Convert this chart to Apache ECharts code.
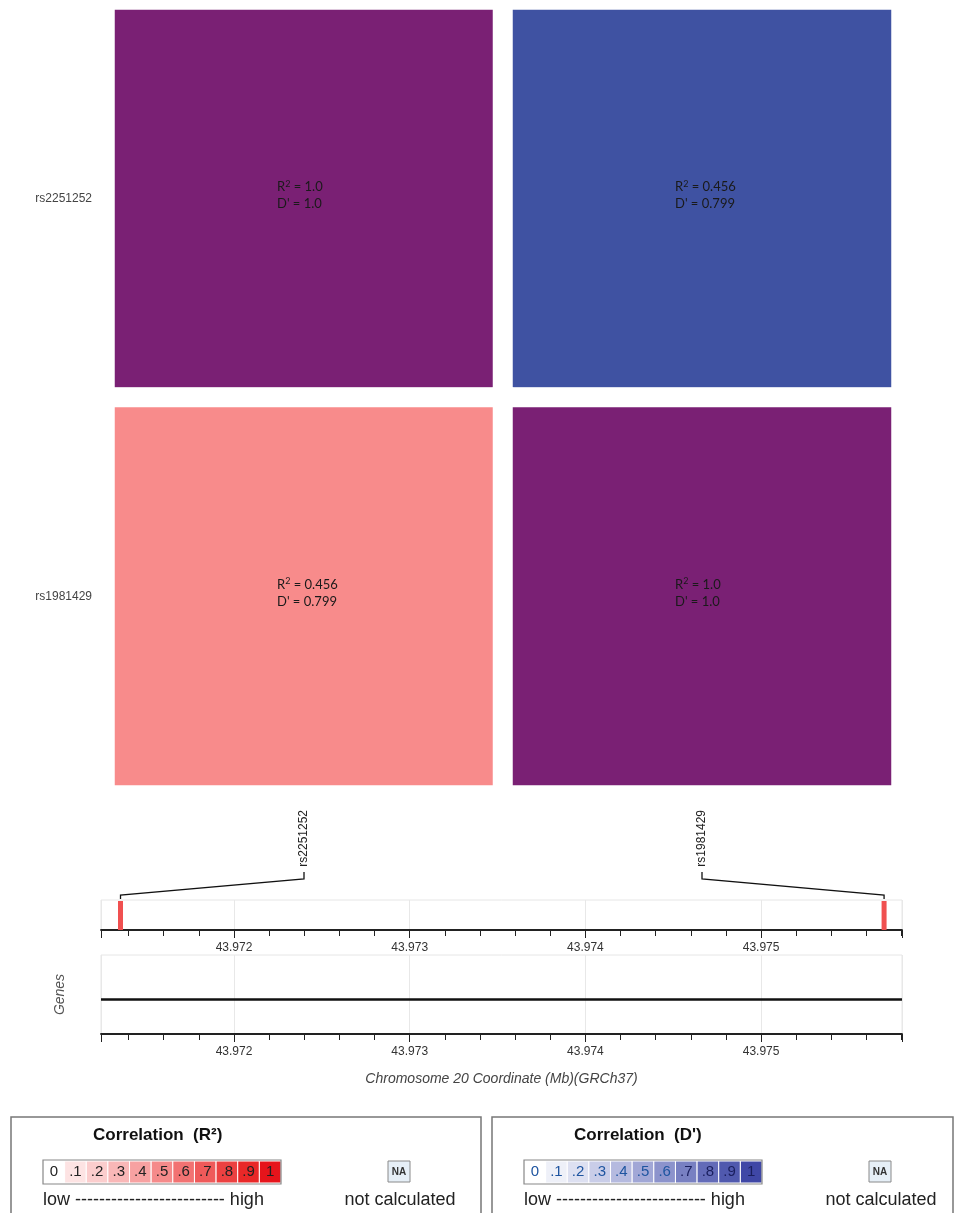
<!DOCTYPE html>
<html>
<head>
<meta charset="utf-8">
<script src="https://cdn.jsdelivr.net/npm/echarts@6/dist/echarts.min.js"></script>
<style>
html, body { margin: 0; padding: 0; background: #fff; }
#main { width: 963px; height: 1213px; }
</style>
</head>
<body>
<div id="main"></div>
<script>
// LD data for the two SNPs
const snps = ['rs2251252', 'rs1981429'];
const snpPos = [43.971354, 43.9757];   // Mb, GRCh37
const r2 = [[1.0, 0.456], [0.456, 1.0]];
const dprime = [[1.0, 0.799], [0.799, 1.0]];
const axisMin = 43.971243;
const axisMax = 43.975802;
const legendTicks = ['0', '.1', '.2', '.3', '.4', '.5', '.6', '.7', '.8', '.9', '1'];

// colours
const r2Colors = ['#FFFFFF', '#FDE3E3', '#FBCDCD', '#F9B7B7', '#F7A1A1', '#F58A8A', '#F27272', '#EF5A5A', '#EC4141', '#E92828', '#E6141B'];
const dpColors = ['#FFFFFF', '#EEF0F8', '#DDE0F1', '#C9CDE8', '#B5BADF', '#A1A7D6', '#8C93CC', '#7880C2', '#636BB8', '#5059AE', '#3F47A6'];
const purple = '#7A2074';

function mix(end, t) {
    return 'rgb(' + end.map(c => Math.round(255 - t * (255 - c))).join(',') + ')';
}
function cellColor(i, j) {
    if (i === j) return purple;
    if (i > j) return mix([240, 0, 0], r2[i][j]);
    return mix([15, 38, 139], dprime[i][j]);
}
function fmt(v) { return v === 1 ? '1.0' : String(v); }

const cells = [];
snps.forEach((a, i) => {
    snps.forEach((b, j) => {
        cells.push({ value: [j, i, r2[i][j]], itemStyle: { color: cellColor(i, j) } });
    });
});

const chart = echarts.init(document.getElementById('main'));

const posAxis = {
    type: 'value',
    min: axisMin,
    max: axisMax,
    splitNumber: 5,
    axisLine: { onZero: false, lineStyle: { color: '#222', width: 1.8 } },
    axisTick: { length: 8, lineStyle: { color: '#222' } },
    minorTick: { show: true, splitNumber: 5, length: 6, lineStyle: { color: '#222' } },
    axisLabel: { fontSize: 12, color: '#333', margin: 12, showMinLabel: false, showMaxLabel: false, fontFamily: 'Liberation Sans' },
    splitLine: { show: true, lineStyle: { color: '#e8e8e8' } }
};

function legendBox(x0, w, title, colors, digitColor) {
    const ch = [];
    ch.push({ type: 'rect', shape: { x: x0, y: 1117, width: w, height: 120 }, style: { fill: 'none', stroke: '#777', lineWidth: 1.5 } });
    ch.push({ type: 'text', x: x0 + 82, y: 1135, style: { text: title, font: 'bold 17px "Liberation Sans"', fill: '#111', verticalAlign: 'middle' } });
    const cw = 238 / 11;
    colors.forEach((c, k) => {
        ch.push({ type: 'rect', shape: { x: x0 + 32 + k * cw, y: 1161, width: cw, height: 22 }, style: { fill: c, stroke: '#fff', lineWidth: 1 } });
        ch.push({ type: 'text', x: x0 + 32 + (k + 0.5) * cw, y: 1172, style: { text: legendTicks[k], font: '15px "Liberation Sans"', fill: digitColor(k), align: 'center', verticalAlign: 'middle' } });
    });
    ch.push({ type: 'rect', shape: { x: x0 + 32, y: 1160, width: 238, height: 24 }, style: { fill: 'none', stroke: '#888', lineWidth: 1.2 } });
    ch.push({ type: 'rect', shape: { x: x0 + 377, y: 1161, width: 22, height: 21 }, style: { fill: '#E6EFF7', stroke: '#8a8a8a', lineWidth: 1 } });
    ch.push({ type: 'text', x: x0 + 388, y: 1172, style: { text: 'NA', font: 'bold 10px "Liberation Sans"', fill: '#333', align: 'center', verticalAlign: 'middle' } });
    ch.push({ type: 'text', x: x0 + 32, y: 1200, style: { text: 'low ------------------------- high', font: '18px "Liberation Sans"', fill: '#222', verticalAlign: 'middle' } });
    ch.push({ type: 'text', x: x0 + 389, y: 1200, style: { text: 'not calculated', font: '18px "Liberation Sans"', fill: '#222', align: 'center', verticalAlign: 'middle' } });
    return { type: 'group', children: ch };
}

chart.setOption({
    animation: false,
    grid: [
        { left: 105, width: 796, top: 0, height: 795 },
        { left: 101, width: 801, top: 900, height: 30, show: true, borderColor: '#e6e6e6', borderWidth: 1 },
        { left: 101, width: 801, top: 955, height: 79, show: true, borderColor: '#e6e6e6', borderWidth: 1 }
    ],
    xAxis: [
        {
            gridIndex: 0, type: 'category', data: snps,
            axisLine: { show: false }, axisTick: { show: false },
            axisLabel: { rotate: 90, margin: 15, fontSize: 12, color: '#222', fontFamily: 'Liberation Sans' }
        },
        Object.assign({ gridIndex: 1 }, posAxis),
        Object.assign({
            gridIndex: 2,
            name: 'Chromosome 20 Coordinate (Mb)(GRCh37)',
            nameLocation: 'middle', nameGap: 38,
            nameTextStyle: { fontStyle: 'italic', fontSize: 14, color: '#444', fontFamily: 'Liberation Sans' }
        }, posAxis)
    ],
    yAxis: [
        {
            gridIndex: 0, type: 'category', data: snps, inverse: true,
            axisLine: { show: false }, axisTick: { show: false },
            axisLabel: { fontSize: 12, color: '#444', margin: 13, fontFamily: 'Liberation Sans' }
        },
        { gridIndex: 1, type: 'value', min: 0, max: 1, show: false },
        {
            gridIndex: 2, type: 'value', min: -1, max: 1.25,
            axisLine: { show: false }, axisTick: { show: false }, axisLabel: { show: false }, splitLine: { show: false },
            name: 'Genes', nameLocation: 'middle', nameGap: 34,
            nameTextStyle: { fontStyle: 'italic', fontSize: 14, color: '#555', fontFamily: 'Liberation Sans' }
        }
    ],
    series: [
        {
            type: 'heatmap', xAxisIndex: 0, yAxisIndex: 0,
            data: cells,
            itemStyle: { borderColor: '#fff', borderWidth: 20 },
            emphasis: { disabled: true },
            label: {
                show: true, position: 'inside', align: 'left', offset: [-27, -3],
                fontFamily: 'Lato', fontSize: 13, lineHeight: 17, color: '#1a1a1a',
                formatter: p => {
                    const j = p.value[0], i = p.value[1];
                    return '{t|R}{s|2}{t| = ' + fmt(r2[i][j]) + '}\n{t|D\' = ' + fmt(dprime[i][j]) + '}';
                },
                rich: {
                    t: { fontFamily: 'Lato', fontSize: 13, lineHeight: 17, color: '#1a1a1a' },
                    s: { fontFamily: 'Lato', fontSize: 9, lineHeight: 17, color: '#1a1a1a', padding: [0, 0, 7, 0] }
                }
            }
        },
        {
            type: 'custom', xAxisIndex: 1, yAxisIndex: 1,
            data: snpPos.map((p, k) => [p, k]),
            silent: true,
            renderItem: (params, api) => {
                const pos = api.value(0), k = api.value(1);
                const b = api.coord([pos, 0]);
                const t = api.coord([pos, 1]);
                const lx = chart.convertToPixel({ xAxisIndex: 0 }, k);
                return {
                    type: 'group',
                    children: [
                        { type: 'rect', shape: { x: b[0] - 2.5, y: t[1] + 1, width: 5, height: b[1] - t[1] - 1 }, style: { fill: '#F05050' } },
                        { type: 'polyline', shape: { points: [[b[0], t[1] - 1], [b[0], t[1] - 5], [lx, t[1] - 21], [lx, t[1] - 28]] }, style: { fill: 'none', stroke: '#111', lineWidth: 1.3 } }
                    ]
                };
            }
        },
        {
            type: 'line', xAxisIndex: 2, yAxisIndex: 2, data: [],
            markLine: {
                silent: true, symbol: 'none', label: { show: false },
                lineStyle: { color: '#111', width: 2.5, type: 'solid' },
                data: [{ yAxis: 0 }]
            }
        }
    ],
    graphic: [
        legendBox(11, 470, 'Correlation  (R\u00B2)', r2Colors, k => '#222'),
        legendBox(492, 461, 'Correlation  (D\')', dpColors, k => (k < 7 ? '#1F55A0' : '#1a1f5e'))
    ]
});
</script>
</body>
</html>
